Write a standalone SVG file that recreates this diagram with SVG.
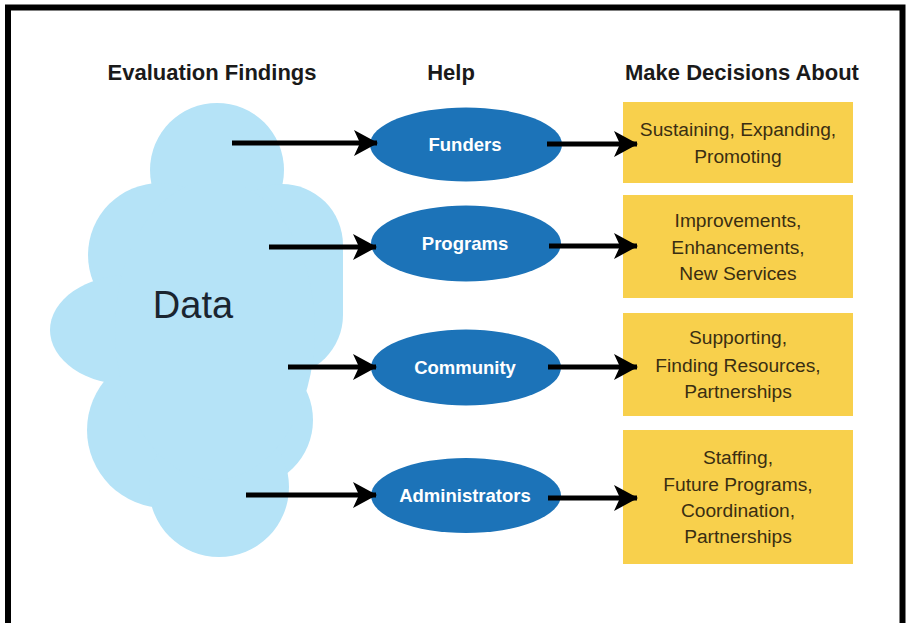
<svg xmlns="http://www.w3.org/2000/svg" width="910" height="623" viewBox="0 0 910 623">
<style>
.hdr{font-family:"Liberation Sans",Arial,sans-serif;font-weight:bold;font-size:22px;fill:#1a1a1a;text-anchor:middle}
.ell{fill:#1c73b8}
.elab{font-family:"Liberation Sans",Arial,sans-serif;font-weight:bold;font-size:18.5px;fill:#ffffff;text-anchor:middle}
.box{fill:#f8d04c}
.btxt{font-family:"Liberation Sans",Arial,sans-serif;font-size:19.2px;fill:#3a2e12;text-anchor:middle}
.cloud{fill:#b5e3f7}
.conn{stroke:#000;stroke-width:5;fill:none;marker-end:url(#ah)}
</style>
<defs>
<marker id="ah" viewBox="0 0 24 28" refX="23" refY="14" markerWidth="24" markerHeight="28" markerUnits="userSpaceOnUse" orient="auto">
<path d="M0,1 L24,14 L0,27 L6,14 Z" fill="#000"/>
</marker>
</defs>
<rect x="0" y="0" width="910" height="623" fill="#ffffff"/>
<rect x="8" y="7.5" width="894.5" height="650" fill="none" stroke="#000" stroke-width="6"/>

<g id="headers">
<text class="hdr" x="212" y="80">Evaluation Findings</text>
<text class="hdr" x="451" y="80">Help</text>
<text class="hdr" x="742" y="80">Make Decisions About</text>
</g>

<g id="data-cloud">
<circle class="cloud" cx="217" cy="170" r="67"/>
<circle class="cloud" cx="282" cy="245" r="61"/>
<circle class="cloud" cx="282" cy="315" r="61"/>
<rect class="cloud" x="260" y="245" width="83" height="70"/>
<circle class="cloud" cx="160" cy="255" r="72"/>
<ellipse class="cloud" cx="130" cy="330" rx="80" ry="55"/>
<circle class="cloud" cx="165" cy="430" r="78"/>
<circle class="cloud" cx="245" cy="420" r="68"/>
<circle class="cloud" cx="219" cy="487" r="70"/>
<ellipse class="cloud" cx="215" cy="330" rx="100" ry="150"/>
<text x="193" y="318" font-family="'Liberation Sans',Arial,sans-serif" font-size="38" fill="#1a2530" text-anchor="middle">Data</text>
</g>

<g id="funders">
<ellipse class="ell" cx="466" cy="144.5" rx="96" ry="37"/>
<text class="elab" x="465" y="151">Funders</text>
</g>
<g id="programs">
<ellipse class="ell" cx="466" cy="243.5" rx="95" ry="38"/>
<text class="elab" x="465" y="250">Programs</text>
</g>
<g id="community">
<ellipse class="ell" cx="466" cy="367.5" rx="95" ry="38"/>
<text class="elab" x="465" y="374">Community</text>
</g>
<g id="administrators">
<ellipse class="ell" cx="466" cy="495.5" rx="95" ry="37.5"/>
<text class="elab" x="465" y="502">Administrators</text>
</g>

<g id="box-funders">
<rect class="box" x="623" y="102" width="230" height="81"/>
<text class="btxt" x="738" y="136">Sustaining, Expanding,</text>
<text class="btxt" x="738" y="163">Promoting</text>
</g>
<g id="box-programs">
<rect class="box" x="623" y="195" width="230" height="103"/>
<text class="btxt" x="738" y="227">Improvements,</text>
<text class="btxt" x="738" y="253.5">Enhancements,</text>
<text class="btxt" x="738" y="280">New Services</text>
</g>
<g id="box-community">
<rect class="box" x="623" y="313" width="230" height="103"/>
<text class="btxt" x="738" y="344">Supporting,</text>
<text class="btxt" x="738" y="372">Finding Resources,</text>
<text class="btxt" x="738" y="398">Partnerships</text>
</g>
<g id="box-administrators">
<rect class="box" x="623" y="430" width="230" height="134"/>
<text class="btxt" x="738" y="464">Staffing,</text>
<text class="btxt" x="738" y="491">Future Programs,</text>
<text class="btxt" x="738" y="517">Coordination,</text>
<text class="btxt" x="738" y="543">Partnerships</text>
</g>

<g id="connectors">
<line class="conn" x1="232" y1="143" x2="377" y2="143"/>
<line class="conn" x1="547" y1="144" x2="637" y2="144"/>
<line class="conn" x1="269" y1="247" x2="376" y2="247"/>
<line class="conn" x1="549" y1="246" x2="637" y2="246"/>
<line class="conn" x1="288" y1="367" x2="376" y2="367"/>
<line class="conn" x1="548" y1="367" x2="637" y2="367"/>
<line class="conn" x1="246" y1="495" x2="376" y2="495"/>
<line class="conn" x1="548" y1="498" x2="637" y2="498"/>
</g>
</svg>
